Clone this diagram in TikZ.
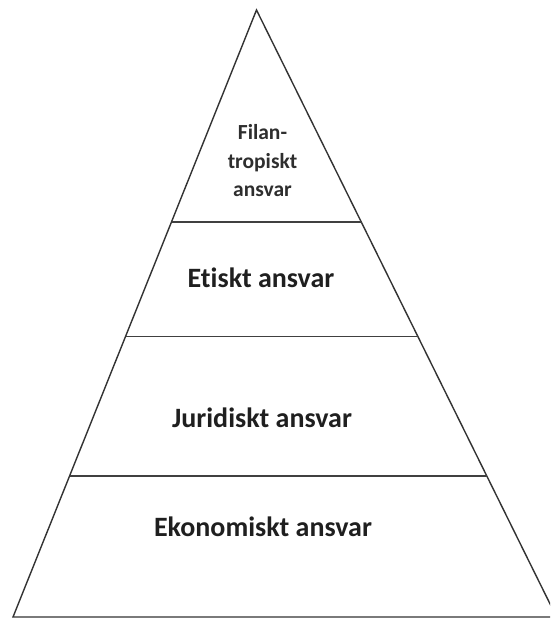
\documentclass[tikz,border=0pt]{standalone}
\usepackage{fontspec}
\setmainfont{Carlito}[Ligatures=NoCommon]
\tikzset{
  edgeline/.style={draw=black!80, line width=1.4pt, line join=miter},
  tierline/.style={draw=black!75, line width=1.9pt},
  bigtext/.style={font=\fontsize{28}{33}\selectfont\bfseries, text=black!88, anchor=base, inner sep=0pt},
  smalltext/.style={font=\fontsize{21.5}{28}\selectfont\bfseries, text=black!82, anchor=base, inner sep=0pt}
}
\begin{document}
\begin{tikzpicture}[x=1pt,y=-1pt]
\useasboundingbox (0,0) rectangle (550,619);
\fill[white] (0,0) rectangle (550,619);
\clip (0,0) rectangle (550,619);
% pyramid corners
\coordinate (apex) at (256.5,10);
\coordinate (bl) at (13,617);
\coordinate (br) at (556.5,617);
% tier boundaries
\coordinate (l1) at (172,222);
\coordinate (r1) at (362,222);
\coordinate (l2) at (126,336.5);
\coordinate (r2) at (418,336.5);
\coordinate (l3) at (70,476);
\coordinate (r3) at (487,476);
\draw[edgeline] (apex) -- (bl) -- (br) -- cycle;
\draw[tierline] (l1) -- (r1);
\draw[tierline] (l2) -- (r2);
\draw[tierline] (l3) -- (r3);
% labels
\node[smalltext] (fil1) at (262.5,139) {Filan-};
\node[smalltext] (fil2) at (262.5,168) {tropiskt};
\node[smalltext] (fil3) at (262.5,196) {ansvar};
\node[bigtext] (etik) at (261,287) {Etiskt ansvar};
\node[bigtext] (jur) at (262,427) {Juridiskt ansvar};
\node[bigtext] (eko) at (263,536) {Ekonomiskt ansvar};
\end{tikzpicture}
\end{document}
